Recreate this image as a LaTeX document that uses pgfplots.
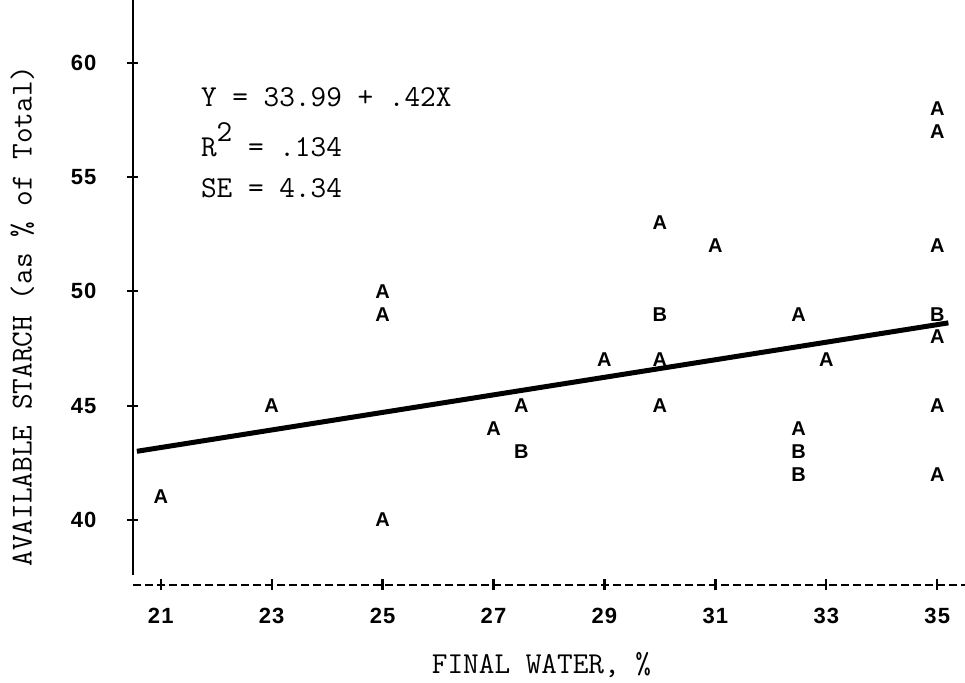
\documentclass[border=0pt]{standalone}
\usepackage{fontspec}
\usepackage{pgfplots}
\pgfplotsset{compat=1.18}
\newfontfamily\ticksf{Liberation Sans}
\newcommand{\tw}{\ttfamily\fontsize{15.2}{18}\selectfont}
\begin{document}
\begin{tikzpicture}
\begin{axis}[
  scale only axis,
  width=416pt, height=292.5pt,
  xmin=20.5, xmax=35.5,
  ymin=37.15, ymax=62.75,
  axis x line*=bottom, axis y line*=left,
  axis line style={draw=none},
  xtick={21,23,25,27,29,31,33,35},
  ytick={40,45,50,55,60},
  tick align=center,
  major tick length=5.5pt,
  tick style={line width=1.1pt, black},
  tick label style={font=\ticksf\bfseries\addfontfeature{LetterSpace=5}\fontsize{11}{13}\selectfont},
  /pgf/number format/assume math mode=true,
  xticklabel style={yshift=-5.5pt},
  yticklabel style={xshift=-12pt},
  xlabel={FINAL WATER, \%},
  xlabel style={at={(axis description cs:0.491,-0.137)}, anchor=center, font=\tw},
  ylabel={AVAILABLE STARCH (as \% of Total)},
  ylabel style={at={(axis description cs:-0.133,0.46)}, anchor=center, font=\tw},
  clip=false,
]
% axis lines drawn as in the original printout
\draw[line width=1pt] (axis cs:20.5,37.6) -- (axis cs:20.5,62.75);
\draw[line width=1pt, dash pattern=on 4pt off 2pt] (axis cs:20.5,37.15) -- (axis cs:35.5,37.15);

% observations, one observation
\addplot[only marks, mark=text, text mark as node=true,
  text mark={\ticksf\bfseries\fontsize{10}{11}\selectfont A}]
  coordinates {
  (21,41) (23,45) (25,50) (25,49) (25,40)
  (27,44) (27.5,45) (29,47)
  (30,53) (30,47) (30,45)
  (31,52)
  (32.5,49) (32.5,44)
  (33,47)
  (35,58) (35,57) (35,52) (35,48) (35,45) (35,42)
  };
% two observations coincide
\addplot[only marks, mark=text, text mark as node=true,
  text mark={\ticksf\bfseries\fontsize{10}{11}\selectfont B}]
  coordinates {
  (27.5,43) (30,49) (32.5,43) (32.5,42) (35,49)
  };
% fitted regression line
\addplot[line width=2.5pt, black] coordinates {(20.57,43.0) (35.2,48.62)};

\node[anchor=west, inner sep=0, font=\tw] at (axis cs:21.72,58.51) {Y = 33.99 + .42X};
\node[anchor=west, inner sep=0, font=\tw] at (axis cs:21.72,56.63) {R\raisebox{0.5em}{2} = .134};
\node[anchor=west, inner sep=0, font=\tw] at (axis cs:21.72,54.53) {SE = 4.34};
\end{axis}
\pgfresetboundingbox
\path (-66.5pt,-49pt) rectangle (416pt,292.5pt);
\end{tikzpicture}
\end{document}
